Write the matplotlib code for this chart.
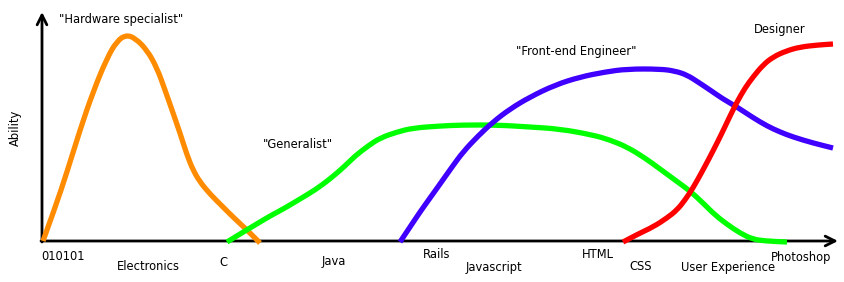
import matplotlib
matplotlib.use("Agg")
import matplotlib.pyplot as plt
from matplotlib.path import Path
from matplotlib.patches import PathPatch

# Data: x = skill position, y = ability (origin at the axes corner)
OX, OY = 42, 241

def conv(pts):
    xs = [p[0] - OX for p in pts]
    ys = [OY - p[1] for p in pts]
    return xs, ys

hardware_pts = [(43,241),(55,208),(67,172),(80,130),(93,92),(107,58),(117,41),(126,35),
                (135,38),(147,50),(157,68),(165,90),(172,110),(180,133),(187,155),(193,170),
                (200,182),(210,194),(222,206),(233,217),(247,230),(260,243)]
generalist_pts = [(227,242),(240,234),(255,225),(270,216),(285,208),(300,199),(315,190),
                  (330,179),(345,166),(355,156),(368,146),(380,138),(397,132),(413,128),
                  (440,126),(463,125),(497,125),(530,127),(560,129),(593,135),(610,140),
                  (627,147),(645,158),(660,169),(675,180),(690,191),(703,203),(715,215),
                  (728,225),(740,233),(752,239),(765,241),(787,242)]
frontend_pts = [(400,242),(410,227),(420,212),(430,198),(440,184),(452,167),(463,152),
                (478,136),(493,122),(510,109),(530,97),(555,85),(580,77),(605,72),(627,69),
                (660,69),(675,71),(687,75),(698,82),(710,90),(723,99),(737,107),(752,117),
                (767,126),(780,132),(793,137),(813,143),(833,148)]
designer_pts = [(623,242),(638,234),(653,227),(667,218),(677,210),(685,200),(693,188),
                (703,170),(713,151),(722,133),(730,116),(737,102),(745,88),(753,77),
                (763,65),(773,57),(786,51),(800,47),(818,45),(833,44)]

series = [
    (hardware_pts, "#FF8C00"),
    (generalist_pts, "#00FF00"),
    (frontend_pts, "#4000FF"),
    (designer_pts, "#FF0000"),
]

skill_labels = ["010101", "Electronics", "C", "Java", "Rails", "Javascript",
                "HTML", "CSS", "User Experience", "Photoshop"]
skill_label_pos = [(41,257,'left'),(148,266,'center'),(223,263,'center'),(334,262,'center'),
                   (437,254,'center'),(494,267,'center'),(598,254,'center'),(641,267,'center'),
                   (728,267,'center'),(801,257,'center')]

role_labels = ['"Hardware specialist"', '"Generalist"', '"Front-end Engineer"', 'Designer']
role_label_pos = [(121,20),(298,145),(576,52),(780,29)]

fig = plt.figure(figsize=(8.45, 2.82), dpi=100)
ax = fig.add_axes([0, 0, 1, 1])
ax.set_xlim(-OX, 845 - OX)
ax.set_ylim(OY - 282, OY)
ax.axis('off')

# axes arrows
arrow_kw = dict(arrowstyle='->,head_length=0.7,head_width=0.35', lw=2.0, color='black',
                shrinkA=0, shrinkB=0)
ax.annotate('', xy=(838 - OX, 0), xytext=(-1, 0), arrowprops=arrow_kw)
ax.annotate('', xy=(0, OY - 12), xytext=(0, -1), arrowprops=arrow_kw)

def smooth_path(xs, ys):
    pts = list(zip(xs, ys))
    verts = [pts[0]]
    codes = [Path.MOVETO]
    for i in range(1, len(pts) - 1):
        mid = ((pts[i][0] + pts[i + 1][0]) / 2, (pts[i][1] + pts[i + 1][1]) / 2)
        verts += [pts[i], mid]
        codes += [Path.CURVE3, Path.CURVE3]
    verts.append(pts[-1])
    codes.append(Path.LINETO)
    return Path(verts, codes)

for pts, col in series:
    xs, ys = conv(pts)
    patch = PathPatch(smooth_path(xs, ys), facecolor='none', edgecolor=col, lw=3.8,
                      capstyle='butt', joinstyle='round', zorder=3)
    ax.add_patch(patch)

fs = 8.3
for lab, (px, py, ha) in zip(skill_labels, skill_label_pos):
    ax.text(px - OX, OY - py, lab, ha=ha, va='center', fontsize=fs, color='black')

for lab, (px, py) in zip(role_labels, role_label_pos):
    ax.text(px - OX, OY - py, lab, ha='center', va='center', fontsize=fs, color='black')

ax.text(15 - OX, OY - 128, 'Ability', rotation=90, ha='center', va='center', fontsize=fs)

fig.savefig('out.png', dpi=100)
